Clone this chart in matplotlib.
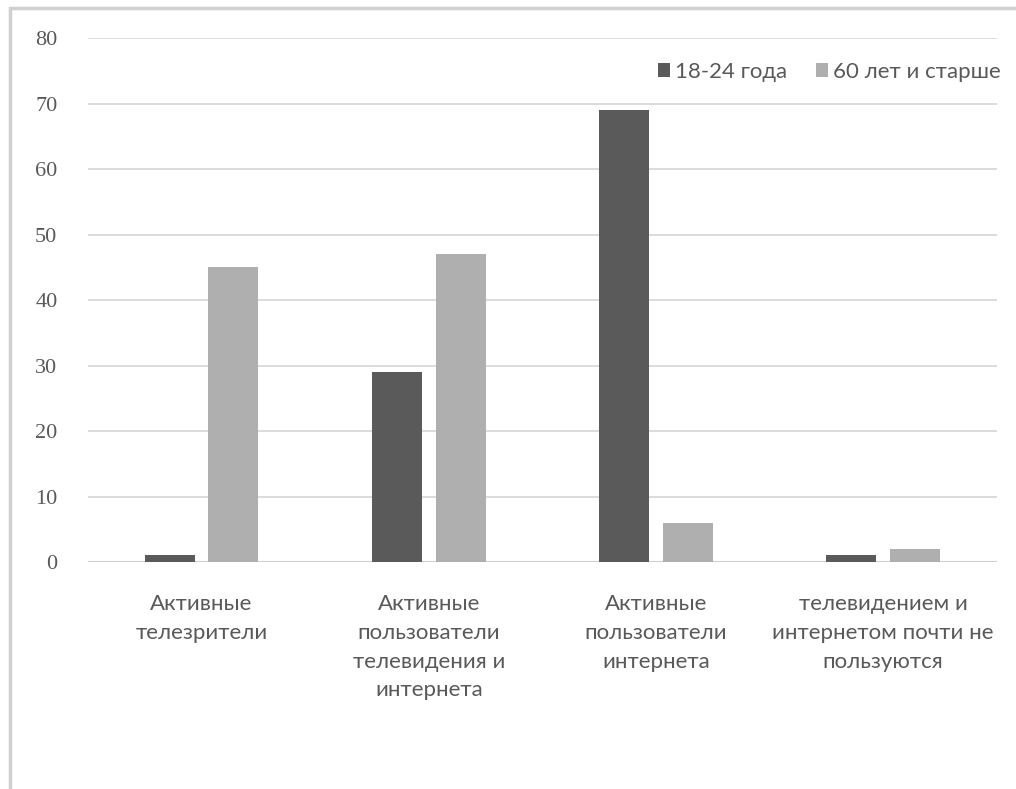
import matplotlib.pyplot as plt
import numpy as np
from matplotlib.patches import Rectangle

# data
categories = ["Активные\nтелезрители",
              "Активные\nпользователи\nтелевидения и\nинтернета",
              "Активные\nпользователи\nинтернета",
              "телевидением и\nинтернетом почти не\nпользуются"]
young = [1, 29, 69, 1]
old = [45, 47, 6, 2]
series_names = ["18-24 года", "60 лет и старше"]
yticks = [0, 10, 20, 30, 40, 50, 60, 70, 80]

DARK = '#5a5a5a'
LIGHT = '#afafaf'
TEXT = '#595959'

plt.rcParams["font.family"] = ['Lato', 'DejaVu Sans']

fig = plt.figure(figsize=(10.16, 7.89), dpi=100)
ax = fig.add_axes([0.0866, 0.2877, 0.8944, 0.6641])

# chart border
fig.patches.append(Rectangle((10/1016, -0.1), 1.2, 1 - 8/789 + 0.1, transform=fig.transFigure,
                             fill=False, edgecolor='#d0d0d0', linewidth=2.5))

x = np.arange(len(categories))
w = 0.22
ax.bar(x - 0.14, young, w, color=DARK, label=series_names[0], zorder=3)
ax.bar(x + 0.14, old, w, color=LIGHT, label=series_names[1], zorder=3)

ax.set_xlim(-0.5, 3.5)
ax.set_ylim(0, 80)
ax.set_yticks(yticks)
ax.yaxis.grid(True, color='#d9d9d9', linewidth=1.3, zorder=0)
for s in ax.spines.values():
    s.set_visible(False)
ax.axhline(0, color='#d0d0d0', linewidth=1.5, zorder=2)

ax.set_xticks(x)
ax.set_xticklabels(categories, fontsize=16, color=TEXT, linespacing=1.55, va='top')
ax.tick_params(axis='x', length=0, pad=23)
ax.tick_params(axis='y', length=0, pad=22, labelcolor=TEXT)
for lbl in ax.get_yticklabels():
    lbl.set_family(['Liberation Serif', 'DejaVu Serif'])
    lbl.set_fontsize(16)

leg = ax.legend(loc='upper right', bbox_to_anchor=(1.026, 0.993), ncol=2, frameon=False,
                fontsize=16, handlelength=0.55, handleheight=0.55, handletextpad=0.2,
                columnspacing=1.3, labelcolor=TEXT)

plt.savefig("out.png", dpi=100)
